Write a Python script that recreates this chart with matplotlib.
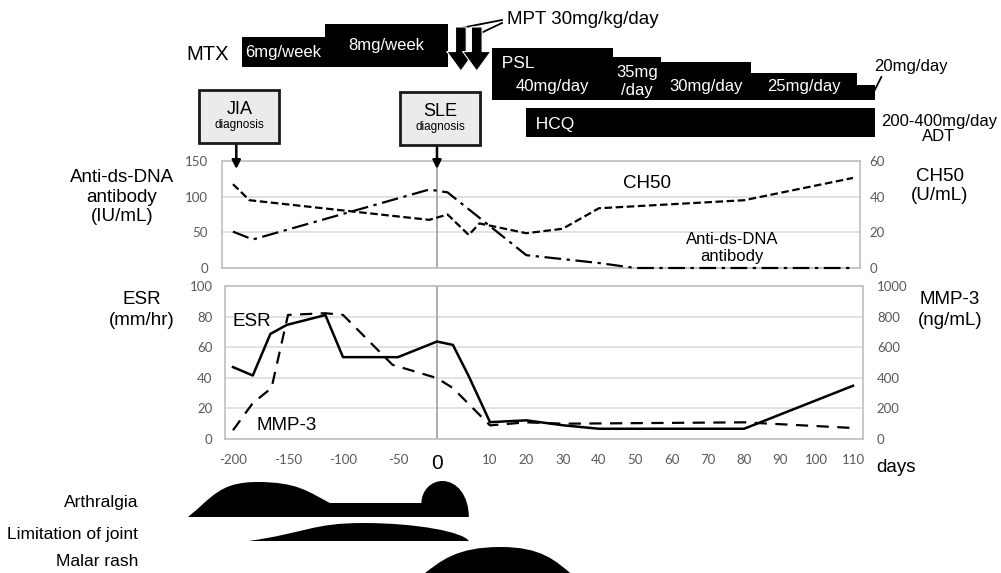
import numpy as np
import matplotlib
matplotlib.use('Agg')
import matplotlib.pyplot as plt
from matplotlib.patches import Rectangle, PathPatch
from matplotlib.path import Path

plt.rcParams['font.family'] = ['Liberation Sans', 'DejaVu Sans']

# ---- laboratory data (days from SLE diagnosis) ----
dna_days = [-200, -182, -10, 2, 20, 40, 50, 110]
dna = [51, 40, 110, 106, 18, 7, 0, 0]                    # IU/mL
ch50_days = [-200, -185, -10, 2, 6, 8, 20, 30, 40, 80, 110]
ch50 = [47, 38, 27, 30, 18.5, 25, 19.5, 22, 33.5, 38, 50.5]  # U/mL
esr_days = [-200, -182, -166, -151, -116, -100, -50, 0, 3, 6, 10, 20, 30, 40, 80, 110]
esr = [47, 41.5, 68.7, 74.6, 81, 53.5, 53.5, 63.7, 61.5, 41, 11, 12.2, 9, 6.7, 6.7, 34.8]
mmp_days = [-200, -182, -165, -150, -116, -100, -55, 0, 3, 10, 20, 30, 80, 110]
mmp = [57, 235, 333, 811, 822, 811, 485, 398, 333, 89, 109, 100, 109, 72]  # ng/mL

xticks = [-200, -150, -100, -50, 0, 10, 20, 30, 40, 50, 60, 70, 80, 90, 100, 110]

# ---- treatment ----
mtx_edges = [-192, -116, 2]
mtx_labels = ['6mg/week', '8mg/week']
mpt_days = [4.5, 7.5]
psl_edges = [10.5, 44, 57, 82, 111, 116]
psl_labels = ['40mg/day', '35mg\n/day', '30mg/day', '25mg/day']
hcq_span = [20, 116]
jia_day, sle_day = -197, 0

# ---- symptoms (days) ----
arthralgia = [-241, -178, -112, -20, 1, 6]   # onset, peak, plateau, flare start, flare peak, end
limitation = [-186, -81, 6]
malar = [-20, 13, 33]

# ---- piecewise time axis (as drawn in the original) ----
day_knots = np.array([-200, -50, 0, 10, 110], float)
pos_knots = np.array([233, 398, 437, 490, 853], float)
s_left = (pos_knots[1] - pos_knots[0]) / (day_knots[1] - day_knots[0])
s_right = (pos_knots[-1] - pos_knots[-2]) / (day_knots[-1] - day_knots[-2])


def fwd(d):
    d = np.asarray(d, float)
    p = np.interp(d, day_knots, pos_knots)
    p = np.where(d < day_knots[0], pos_knots[0] + (d - day_knots[0]) * s_left, p)
    p = np.where(d > day_knots[-1], pos_knots[-1] + (d - day_knots[-1]) * s_right, p)
    return p


def inv(p):
    p = np.asarray(p, float)
    d = np.interp(p, pos_knots, day_knots)
    d = np.where(p < pos_knots[0], day_knots[0] + (p - pos_knots[0]) / s_left, d)
    d = np.where(p > pos_knots[-1], day_knots[-1] + (p - pos_knots[-1]) / s_right, d)
    return d


W, H = 1001, 573
fig = plt.figure(figsize=(W / 100, H / 100), dpi=100)


def frac(x0, y0, x1, y1):
    return [x0 / W, 1 - y1 / H, (x1 - x0) / W, (y1 - y0) / H]


def ftext(x, y, s, **kw):
    kw.setdefault('va', 'center')
    kw.setdefault('fontsize', 13.5)
    fig.text(x / W, 1 - y / H, s, **kw)


grey = '#595959'


def style_panel(ax, l, r):
    ax.set_xscale('function', functions=(fwd, inv))
    ax.set_xlim(float(inv(l)), float(inv(r)))
    for sp in ax.spines.values():
        sp.set_color('#bfbfbf')
        sp.set_linewidth(1.2)
    ax.grid(axis='y', color='#dcdcdc', lw=1.2)
    ax.set_axisbelow(True)
    ax.axvline(0, color='#a6a6a6', lw=1.3, zorder=1)
    ax.set_xticks(xticks)


# ---- upper panel: anti-ds-DNA / CH50 ----
ax1 = fig.add_axes(frac(222, 161, 860, 268))
style_panel(ax1, 222, 860)
ax1.set_ylim(0, 150)
ax1.set_yticks([0, 50, 100, 150])
ax1.tick_params(axis='x', length=0, labelbottom=False)
ax1.tick_params(axis='y', length=0, pad=10, labelcolor=grey)
ax1b = ax1.twinx()
ax1b.set_ylim(0, 60)
ax1b.set_yticks([0, 20, 40, 60])
ax1b.tick_params(axis='y', length=0, pad=7, labelcolor=grey)
for sp in ax1b.spines.values():
    sp.set_visible(False)
ax1b.plot(ch50_days, ch50, color='black', lw=1.6, dashes=(3.4, 1.6))
ax1b.plot(dna_days, np.array(dna) * 60 / 150, color='black', lw=1.6,
          dashes=(7.5, 2.5, 1.5, 2.5), clip_on=False, zorder=4)

# ---- lower panel: ESR / MMP-3 ----
ax2 = fig.add_axes(frac(225, 286, 863, 439))
style_panel(ax2, 225, 863)
ax2.set_ylim(0, 100)
ax2.set_yticks(range(0, 101, 20))
ax2.tick_params(axis='both', length=0, labelcolor=grey)
ax2.tick_params(axis='y', pad=9)
ax2.tick_params(axis='x', pad=11)
ax2.set_xticklabels([str(t) for t in xticks])
ax2.plot(esr_days, esr, color='black', lw=1.8)
ax2b = ax2.twinx()
ax2b.set_ylim(0, 1000)
ax2b.set_yticks(range(0, 1001, 200))
ax2b.tick_params(axis='y', length=0, pad=10, labelcolor=grey)
for sp in ax2b.spines.values():
    sp.set_visible(False)
ax2b.plot(mmp_days, mmp, color='black', lw=1.6, dashes=(5.5, 3.8))

for ax in (ax1, ax1b, ax2, ax2b):
    plt.setp(ax.get_yticklabels(), family='Lato', fontsize=9.5)
plt.setp(ax2.get_xticklabels(), family='Lato', fontsize=9.5)
for lbl in ax2.get_xticklabels():
    if lbl.get_text() == '0':
        lbl.set_fontsize(15)
        lbl.set_color('black')
        lbl.set_family('Liberation Sans')

# ---- overlay in days (x) / pixels (y) ----
ov = fig.add_axes([0, 0, 1, 1], zorder=5)
ov.set_xscale('function', functions=(fwd, inv))
ov.set_xlim(float(inv(0)), float(inv(W)))
ov.set_ylim(H, 0)
ov.axis('off')


def day_px(d):
    return ov.transData.transform([[d, 0]])[0, 0]


def px_day(x):
    return ov.transData.inverted().transform([[x, 0]])[0, 0]


def mid_day(a, b):
    return px_day((day_px(a) + day_px(b)) / 2)


# MTX
mtx_tops = [37, 24]
ov.fill_between(mtx_edges, mtx_tops + mtx_tops[-1:], 67, step='post', color='black', lw=0)
for i, lab in enumerate(mtx_labels):
    ov.text(mid_day(mtx_edges[i], mtx_edges[i + 1]), (mtx_tops[i] + 67) / 2, lab,
            color='white', ha='center', va='center', fontsize=12)
ftext(208, 55, 'MTX', ha='center', fontsize=14.5)

# MPT pulses
for d in mpt_days:
    ov.annotate('', xy=(d, 71), xytext=(d, 27),
                arrowprops=dict(arrowstyle='simple,head_length=1.0,head_width=1.45,tail_width=0.55',
                                fc='black', ec='white', lw=0.8, mutation_scale=14,
                                shrinkA=0, shrinkB=0))
ov.plot([mpt_days[0], 13.3], [28, 20], color='black', lw=1.3)
ov.plot([mpt_days[1], 13.3], [35, 23], color='black', lw=1.3)
ftext(507, 20, 'MPT 30mg/kg/day', ha='left')

# PSL
psl_tops = [48, 57, 62, 73, 85]
ov.fill_between(psl_edges, psl_tops + psl_tops[-1:], 100, step='post', color='black', lw=0)
for i, lab in enumerate(psl_labels):
    ov.text(mid_day(psl_edges[i], psl_edges[i + 1]), 81 if '\n' in lab else 86, lab,
            color='white', ha='center', va='center', fontsize=12, linespacing=1.25)
ov.text(psl_edges[0], 63, '  PSL', color='white', ha='left', va='center', fontsize=12.5)
ov.plot([psl_edges[-1], 117.8], [90, 77], color='black', lw=1.3)
ftext(911, 66, '20mg/day', ha='center', fontsize=12)

# HCQ
ov.fill_between(hcq_span, 108, 137, color='black', lw=0)
ov.text(hcq_span[0], 125, '  HCQ', color='white', ha='left', va='center', fontsize=12.5)
ftext(939, 129, '200-400mg/day\nADT', ha='center', fontsize=12, linespacing=1.05)

# diagnosis boxes
for d, name, top in ((jia_day, 'JIA', 90), (sle_day, 'SLE', 92)):
    xc = day_px(d) + 3
    fig.patches.append(Rectangle(((xc - 40) / W, 1 - (top + 53) / H), 80 / W, 53 / H,
                                 transform=fig.transFigure, fc='#ebebeb', ec='#1a1a1a',
                                 lw=2, zorder=6))
    ftext(xc, top + 19, name, ha='center', fontsize=13, zorder=7)
    ftext(xc, top + 35, 'diagnosis', ha='center', fontsize=8.5, zorder=7)
    ov.annotate('', xy=(d, 169), xytext=(d, top + 53),
                arrowprops=dict(arrowstyle='-|>,head_length=0.5,head_width=0.25',
                                color='black', lw=1.8, shrinkA=0, shrinkB=0))


# ---- symptoms: curves built in pixel space, stored back in days ----
def hump(a, p, b, top, base_l, base_r, left=(0.0, 0.55, 0.55), right=(0.55, 0.0, 0.55)):
    # left = (x-shift of first control, rise of first control, reach of second control)
    a, p, b = day_px(a), day_px(p), day_px(b)
    pts = [(a, base_l),
           (a + left[0] * (p - a), base_l - left[1] * (base_l - top)),
           (p - left[2] * (p - a), top), (p, top),
           (p + right[0] * (b - p), top),
           (b - right[1] * (b - p), base_r - right[2] * (base_r - top)), (b, base_r)]
    return [(px_day(x), y) for x, y in pts]


def add_shape(pts, curve):
    codes = [Path.MOVETO] + [Path.CURVE4 if c else Path.LINETO for c in curve]
    ov.add_patch(PathPatch(Path(pts, codes), fc='black', ec='none'))


a0, a1, a2, a3, a4, a5 = arthralgia
big = hump(a0, a1, a2, 482, 517, 503, left=(0.35, 0.55, 0.55), right=(0.55, 0.3, 0.55))
small = hump(a3, a4, a5, 481, 503, 517, left=(0.0, 0.55, 0.55), right=(0.55, 0.0, 0.6))
add_shape(big + small + [(a0, 517)], [1] * 6 + [0] + [1] * 6 + [0])

l0, l1, l2 = limitation
lens = hump(l0, l1, l2, 523, 541, 541, left=(0.5, 0.45, 0.45), right=(0.5, 0.05, 0.5))
add_shape(lens + [(l0, 541)], [1] * 6 + [0])

m0, m1, m2 = malar
dome = hump(m0, m1, m2, 547, 576, 576, left=(0.25, 0.55, 0.55), right=(0.55, 0.25, 0.55))
add_shape(dome + [(m0, 576)], [1] * 6 + [0])

ftext(138, 503, 'Arthralgia', ha='right', fontsize=12.5)
ftext(138, 535, 'Limitation of joint', ha='right', fontsize=12.5)
ftext(138, 562, 'Malar rash', ha='right', fontsize=12.5)

# ---- axis titles ----
ftext(122, 197, 'Anti-ds-DNA\nantibody\n(IU/mL)', ha='center', linespacing=1.2)
ftext(940, 186, 'CH50\n(U/mL)', ha='center', linespacing=1.2)
ftext(647, 183, 'CH50', ha='center')
ftext(732, 248, 'Anti-ds-DNA\nantibody', ha='center', fontsize=12, linespacing=1.2)
ftext(142, 310, 'ESR\n(mm/hr)', ha='center', linespacing=1.3)
ftext(252, 322, 'ESR', ha='center')
ftext(287, 425, 'MMP-3', ha='center')
ftext(950, 310, 'MMP-3\n(ng/mL)', ha='center', linespacing=1.3)
ftext(896, 468, 'days', ha='center')

fig.savefig('out.png', dpi=100)
